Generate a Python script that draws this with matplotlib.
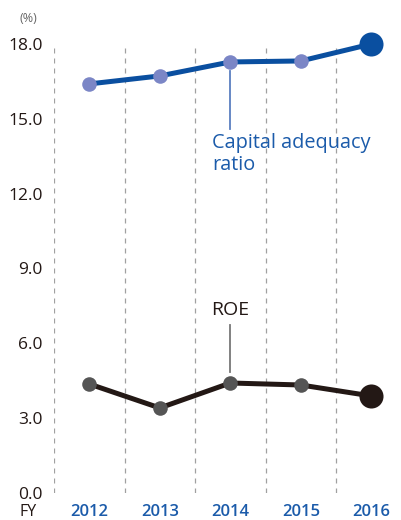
import matplotlib
matplotlib.use('Agg')
import matplotlib.pyplot as plt

# data
years = ['2012', '2013', '2014', '2015', '2016']
capital_ratio = [16.40, 16.72, 17.28, 17.32, 18.0]
roe = [4.37, 3.41, 4.41, 4.33, 3.89]
yticks = [0.0, 3.0, 6.0, 9.0, 12.0, 15.0, 18.0]

blue = '#0a4fa0'
blue_pt = '#7b86c6'
dark = '#231815'
dark_pt = '#555555'

plt.rcParams['font.family'] = ['Open Sans', 'DejaVu Sans']

fig = plt.figure(figsize=(4.01, 5.20), dpi=100)
ax = fig.add_axes([54 / 401, 27 / 520, 347 / 401, 449 / 520])

x = list(range(len(years)))

# dashed separators between years
for b in [-0.5, 0.5, 1.5, 2.5, 3.5]:
    ax.axvline(b, color='#a0a0a0', lw=0.9, ls=(0, (4, 4)), zorder=0)

# capital adequacy ratio
ax.plot(x, capital_ratio, color=blue, lw=3.6, zorder=2, clip_on=False)
ax.scatter(x[:-1], capital_ratio[:-1], s=110, color=blue_pt, zorder=3, clip_on=False, linewidths=0)
ax.scatter(x[-1:], capital_ratio[-1:], s=300, color=blue, zorder=3, clip_on=False, linewidths=0)

# ROE
ax.plot(x, roe, color=dark, lw=3.6, zorder=2, clip_on=False)
ax.scatter(x[:-1], roe[:-1], s=110, color=dark_pt, zorder=3, clip_on=False, linewidths=0)
ax.scatter(x[-1:], roe[-1:], s=300, color=dark, zorder=3, clip_on=False, linewidths=0)

# labels with leader lines
ax.plot([2, 2], [capital_ratio[2] - 0.35, 14.6], color='#5b7fc0', lw=1.3)
ax.text(1.74, 13.6, 'Capital adequacy\nratio', color='#1b5baa', fontsize=14.3,
        ha='left', va='center', linespacing=1.1)
ax.plot([2, 2], [roe[2] + 0.45, 6.74], color='#777777', lw=1.3)
ax.text(2, 7.34, 'ROE', color=dark, fontsize=14, ha='center', va='center')

ax.set_xlim(-0.5, 4.42)
ax.set_ylim(0, 18)
ax.set_yticks(yticks)
ax.set_yticklabels(['%.1f' % v for v in yticks], fontsize=12.5, color=dark)
ax.set_xticks(x)
ax.set_xticklabels(years, fontsize=12, color='#1b5baa', fontweight='semibold')
ax.tick_params(length=0, axis='y', pad=8)
ax.tick_params(length=0, axis='x', pad=8)
for s in ax.spines.values():
    s.set_visible(False)

fig.text(20 / 401, 1 - 18 / 520, '(%)', fontsize=9, color='#666666', va='center', ha='left')
fig.text(28 / 401, 1 - 512 / 520, 'FY', fontsize=11.5, color=dark, va='center', ha='center')

fig.savefig('out.png', dpi=100)
